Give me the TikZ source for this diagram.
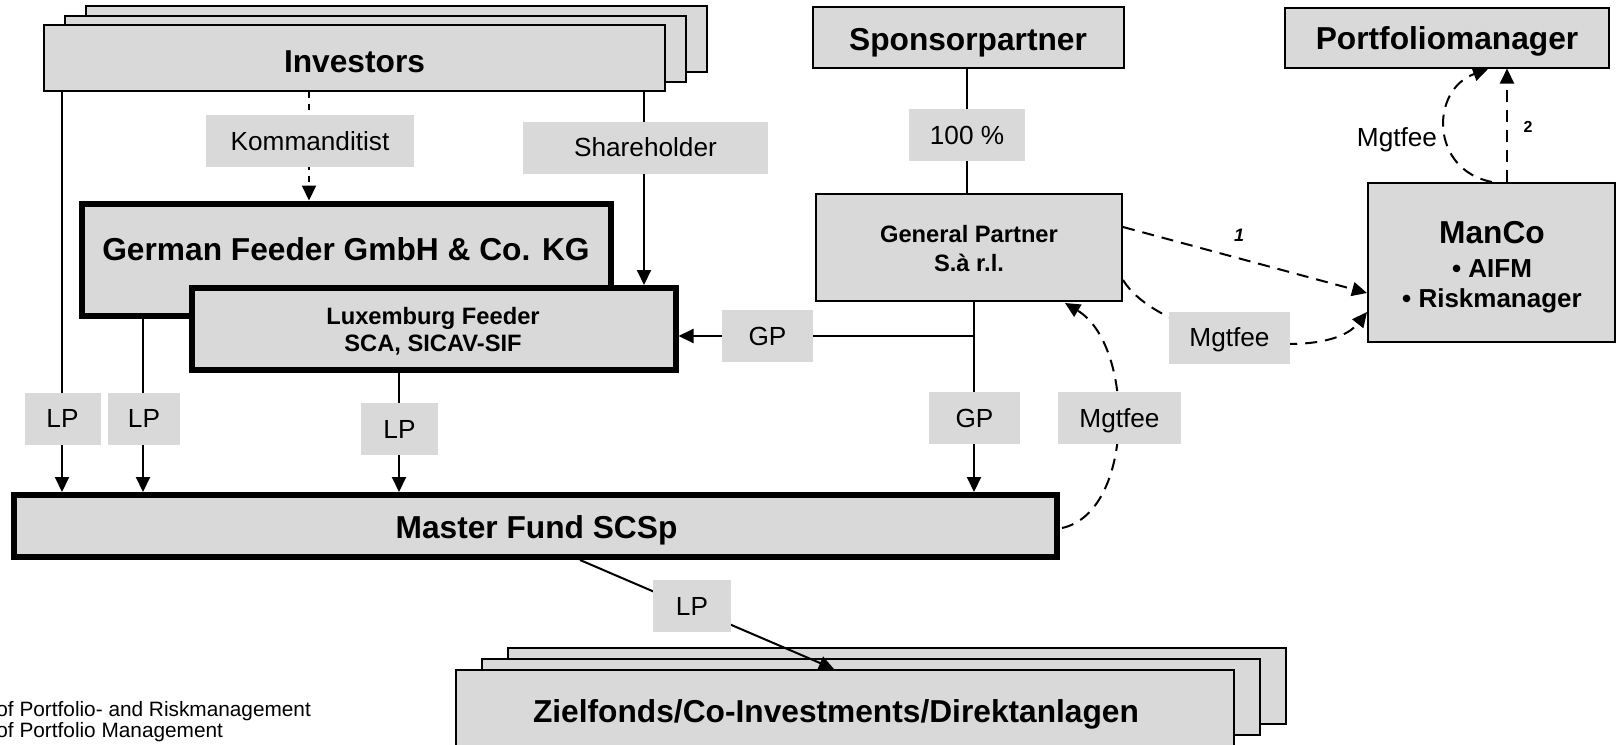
\documentclass[tikz,border=0pt]{standalone}
\usepackage{fontspec}
\setmainfont{Liberation Sans}
\usetikzlibrary{arrows.meta}
\definecolor{boxgray}{RGB}{217,217,217}

\begin{document}
\begin{tikzpicture}[x=0.5pt, y=-0.5pt,
  box/.style={draw=black, fill=boxgray, line width=1pt, inner sep=0pt},
  thickbox/.style={box, line width=3pt},
  title/.style={font=\fontsize{15.85}{19}\selectfont\bfseries, inner sep=0pt},
  sub/.style={font=\fontsize{11.85}{14}\selectfont\bfseries, inner sep=0pt},
  bullet/.style={font=\fontsize{13}{15}\selectfont\bfseries, inner sep=0pt},
  lbl/.style={fill=boxgray, inner sep=0pt, minimum height=26pt, text depth=0pt,
              font=\fontsize{13.1}{15}\selectfont},
  lbltext/.style={inner sep=0pt, text depth=0pt, font=\fontsize{13.1}{15}\selectfont},
  note/.style={inner sep=0pt, font=\fontsize{10.4}{12}\selectfont},
  conn/.style={line width=1pt},
  arr/.style={conn, -{Triangle[length=7.5pt, width=7pt]}},
  darr/.style={arr, dash pattern=on 6pt off 4pt},
  darrshort/.style={arr, dash pattern=on 3pt off 3pt},
 ]
\useasboundingbox (0,0) rectangle (1616,744);

% ---- Investors (stacked) ----
\node[box, minimum width=310.5pt, minimum height=33pt] (invC) at (396.5,39) {};
\node[box, minimum width=310.5pt, minimum height=33pt] (invB) at (375.5,48.5) {};
\node[box, minimum width=310.5pt, minimum height=33pt] (inv)  at (354.5,58) {};
\node[title, anchor=base] (invtext) at (354.5,72) {Investors};

% ---- Sponsorpartner and Portfoliomanager ----
\node[box, minimum width=155.5pt, minimum height=30.5pt] (sponsor) at (968.5,37.5) {};
\node[title, anchor=base] (sponsortext) at (968,50) {Sponsorpartner};
\node[box, minimum width=162pt, minimum height=30pt] (pm) at (1447,37.5) {};
\node[title, anchor=base] (pmtext) at (1447,49.5) {Portfoliomanager};

% ---- Feeders ----
\node[thickbox, minimum width=264.5pt, minimum height=56.25pt] (gf) at (346.5,259.75) {};
\node[title, anchor=base] (gftext) at (346,260) {German Feeder GmbH \& Co. KG};
\node[thickbox, minimum width=241.75pt, minimum height=41pt] (lux) at (433.75,329) {};
\node[sub, anchor=base] (luxa) at (433,324) {Luxemburg Feeder};
\node[sub, anchor=base] (luxb) at (433,351.5) {SCA, SICAV-SIF};

% ---- General Partner ----
\node[box, minimum width=153pt, minimum height=53.25pt] (gp) at (969,247.5) {};
\node[sub, anchor=base] (gpa) at (969,242.5) {General Partner};
\node[sub, anchor=base] (gpb) at (969,271.5) {S.à r.l.};

% ---- ManCo ----
\node[box, minimum width=123.5pt, minimum height=79.75pt] (manco) at (1491.5,262.5) {};
\node[title, anchor=base] (mancoa) at (1492,243) {ManCo};
\node[bullet, anchor=base] (mancob) at (1492,277) {• AIFM};
\node[bullet, anchor=base] (mancoc) at (1492,307) {• Riskmanager};

% ---- Master fund ----
\node[thickbox, minimum width=521.75pt, minimum height=31pt] (master) at (535.25,526) {};
\node[title, anchor=base] (mastertext) at (536.5,538) {Master Fund SCSp};

% ---- Target investments (stacked) ----
\node[box, minimum width=389pt, minimum height=38pt] (zielC) at (897,686) {};
\node[box, minimum width=389pt, minimum height=38pt] (zielB) at (871,697) {};
\node[box, minimum width=389pt, minimum height=38pt] (ziel)  at (845,708) {};
\node[title, anchor=base] (zieltext) at (836,722) {Zielfonds/Co-Investments/Direktanlagen};

% ---- connector columns ----
\coordinate (xA) at (62,0);
\coordinate (xB) at (143,0);
\coordinate (xC) at (399,0);
\coordinate (xK) at (309,0);
\coordinate (xS) at (644,0);
\coordinate (xP) at (967,0);
\coordinate (xG) at (974,0);
\coordinate (xM) at (1507,0);

% ---- solid connectors ----
\draw[arr] (inv.south -| xA) -- (master.north -| xA)
  node[lbl, minimum width=38pt] (lpA) at (62.5,418.5) {LP};
\draw[arr] (gf.south -| xB) -- (master.north -| xB)
  node[lbl, minimum width=36pt] (lpB) at (144,418.5) {LP};
\draw[arr] (lux.south -| xC) -- (master.north -| xC)
  node[lbl, minimum width=38.5pt] (lpC) at (399.5,429) {LP};
\draw[darrshort] (inv.south -| xK) -- (gf.north -| xK)
  node[lbl, minimum width=104pt] (komm) at (310,141) {Kommanditist};
\draw[arr] (inv.south -| xS) -- (lux.north -| xS)
  node[lbl, minimum width=122.5pt] (share) at (645.5,147.5) {Shareholder};
\draw[conn] (sponsor.south -| xP) -- (gp.north -| xP)
  node[lbl, minimum width=58pt] (pct) at (967,135) {100 \%};
\draw[arr] (gp.south -| xG) -- (master.north -| xG)
  node[lbl, minimum width=45.5pt] (gpV) at (974.5,418) {GP};
\coordinate (jn) at (974,336);
\draw[arr] (jn) -- (jn -| lux.east)
  node[lbl, minimum width=45.5pt] (gpH) at (767.5,336) {GP};
\coordinate (zs) at (580,560);
\coordinate (zt) at (834,669);
\draw[arr] (zs) -- (zt)
  node[lbl, minimum width=39pt] (lpD) at (692,606) {LP};

% ---- dashed connectors ----
\coordinate (oneS) at (1123,227);
\coordinate (oneE) at (1367,293);
\draw[darr] (oneS) -- (oneE)
  node[inner sep=0pt, font=\fontsize{9}{10}\selectfont\bfseries\itshape] (one) at (1239,235) {1};

\coordinate (mfS) at (1123,280);
\coordinate (mfE) at (1367,312);
\draw[darr] (mfS) .. controls (1160,340) and (1325,365) .. (mfE)
  node[lbl, minimum width=60.5pt] (mgR) at (1229.5,337.5) {Mgtfee};

\coordinate (mlS) at (1062,528);
\coordinate (mlE) at (1065,303);
\draw[darr] (mlS) .. controls (1135,512) and (1135,345) .. (mlE)
  node[lbl, minimum width=61.5pt] (mgL) at (1119.5,418) {Mgtfee};

\draw[darr] (manco.north -| xM) -- (pm.south -| xM)
  node[inner sep=0pt, font=\fontsize{8}{9}\selectfont\bfseries] (two) at (1528,127) {2};
\coordinate (mtS) at (1492,182);
\coordinate (mtE) at (1488,69);
\draw[darr] (mtS) .. controls (1430,170) and (1430,90) .. (mtE)
  node[lbltext] (mgT) at (1397,137) {Mgtfee};

% ---- notes ----
\node[note, anchor=base west] (noteA) at (-4,716) {of Portfolio- and Riskmanagement};
\node[note, anchor=base west] (noteB) at (-4,737) {of Portfolio Management};
\end{tikzpicture}
\end{document}
